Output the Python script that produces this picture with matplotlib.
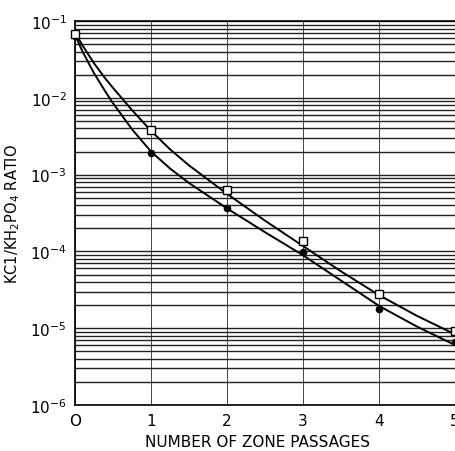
import numpy as np
import matplotlib
matplotlib.use("Agg")
import matplotlib.pyplot as plt
from matplotlib.ticker import LogLocator, NullFormatter

# measured points (open squares and filled circles)
passes = [0, 1, 2, 3, 4, 5]
ratio_sq = [6.8e-2, 3.85e-3, 6.3e-4, 1.38e-4, 2.8e-5, 9.2e-6]
ratio_dot = [6.5e-2, 1.9e-3, 3.7e-4, 9.7e-5, 1.75e-5, 6.6e-6]

# the two drawn curves (log10 of ratio)
curve_x = [0, 0.1, 0.25, 0.4, 0.5, 0.75, 1, 1.25, 1.5, 2, 2.5, 3, 3.5, 4, 4.5, 5]
curve_up_log = [-1.15, -1.32, -1.55, -1.75, -1.87, -2.16, -2.43, -2.67, -2.88,
                -3.25, -3.60, -3.93, -4.26, -4.57, -4.84, -5.08]
curve_lo_log = [-1.18, -1.40, -1.68, -1.92, -2.07, -2.41, -2.70, -2.92, -3.11,
                -3.44, -3.75, -4.05, -4.38, -4.71, -4.98, -5.22]

xticks = [0, 1, 2, 3, 4, 5]
xticklabels = ["O", "1", "2", "3", "4", "5"]
yticks = [1e-6, 1e-5, 1e-4, 1e-3, 1e-2, 1e-1]
yticklabels = ["10$^{-6}$", "10$^{-5}$", "10$^{-4}$", "10$^{-3}$",
               "10$^{-2}$", "10$^{-1}$"]

fig = plt.figure(figsize=(4.55, 4.52), dpi=100)
ax = fig.add_axes([0.165, 0.102, 0.835, 0.849])

ax.set_yscale("log")
ax.set_xlim(0, 5)
ax.set_ylim(1e-6, 1e-1)

# graph paper grid
ax.yaxis.set_minor_locator(LogLocator(base=10, subs=np.arange(2, 10)))
ax.yaxis.set_minor_formatter(NullFormatter())
ax.grid(True, which="both", axis="y", color="#222222", lw=1.0)
ax.grid(True, which="major", axis="x", color="#444444", lw=0.7)
ax.set_axisbelow(True)

ax.plot(curve_x, 10 ** np.array(curve_up_log), color="black", lw=1.4)
ax.plot(curve_x, 10 ** np.array(curve_lo_log), color="black", lw=1.4)

ax.plot(passes, ratio_dot, "o", ms=4.5, color="black", clip_on=False, zorder=4)
ax.plot(passes, ratio_sq, "s", ms=6, mfc="white", mec="black", mew=1.0,
        clip_on=False, zorder=5)

ax.set_xticks(xticks)
ax.set_xticklabels(xticklabels, fontsize=11)
ax.set_yticks(yticks)
ax.set_yticklabels(yticklabels, fontsize=11)
ax.tick_params(which="both", length=0, pad=6)

for s in ["left", "bottom", "top"]:
    ax.spines[s].set_color("black")
    ax.spines[s].set_linewidth(1.2)
ax.spines["right"].set_visible(False)

ax.set_xlabel("NUMBER OF ZONE PASSAGES", fontsize=11, labelpad=3)
ax.xaxis.set_label_coords(0.48, -0.075)
ax.set_ylabel("KC1/KH$_2$PO$_4$ RATIO", fontsize=10.5, labelpad=6)

fig.savefig("out.png", dpi=100)
